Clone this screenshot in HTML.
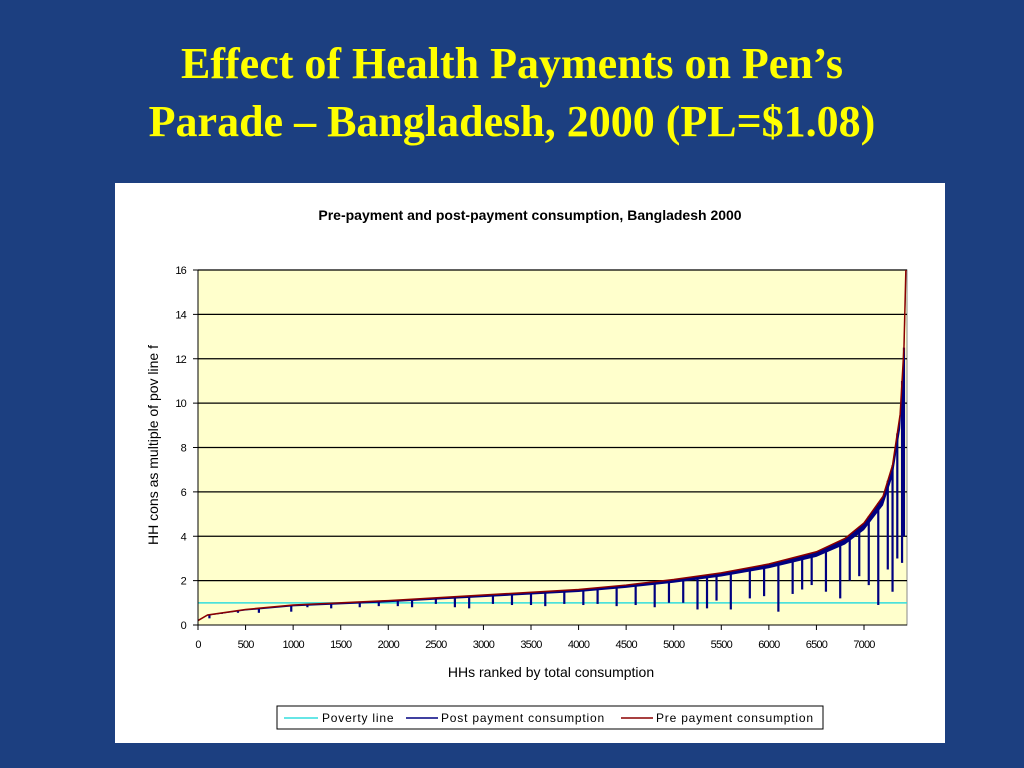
<!DOCTYPE html>
<html><head><meta charset="utf-8"><style>
body{margin:0;width:1024px;height:768px;background:#1c3f80;overflow:hidden;font-family:"Liberation Sans",sans-serif}
.t{position:absolute;left:0;width:1024px;text-align:center;color:#ffff00;font-family:"Liberation Serif",serif;font-weight:bold;font-size:44px;line-height:58px}
</style></head><body>
<div class="t" style="top:35px">Effect of Health Payments on Pen’s<br>Parade – Bangladesh, 2000 (PL=$1.08)</div>
<svg id="c" width="1024" height="768" style="position:absolute;left:0;top:0">
<rect x="115" y="183" width="830" height="560" fill="#fff"/>
<text x="530" y="220" text-anchor="middle" font-size="14" font-weight="bold">Pre-payment and post-payment consumption, Bangladesh 2000</text>
<rect x="198" y="270" width="709" height="355" fill="#ffffcc" stroke="#888"/>
<g id="grid"></g><g id="series"></g><g id="axes"></g>
<text x="551" y="677" text-anchor="middle" font-size="14">HHs ranked by total consumption</text>
<text transform="translate(158,445) rotate(-90)" text-anchor="middle" font-size="14">HH cons as multiple of pov line f</text>
<g>
<rect x="277" y="706" width="546" height="23" fill="#fff" stroke="#000"/>
<line x1="284" y1="718" x2="318" y2="718" stroke="#33dddd" stroke-width="1.5"/>
<text x="322" y="722" font-size="12" letter-spacing="0.8">Poverty line</text>
<line x1="406" y1="718" x2="438" y2="718" stroke="#000080" stroke-width="1.5"/>
<text x="441" y="722" font-size="12" letter-spacing="0.8">Post payment consumption</text>
<line x1="621" y1="718" x2="653" y2="718" stroke="#8b0000" stroke-width="1.5"/>
<text x="656" y="722" font-size="12" letter-spacing="0.8">Pre payment consumption</text>
</g>
</svg>
<script>
const preRank=[0,100,500,1000,2000,3000,4000,4500,5000,5500,6000,6500,6800,7000,7200,7300,7380,7420,7440];
const preVal=[0.2,0.45,0.7,0.9,1.1,1.35,1.6,1.8,2.05,2.35,2.75,3.3,3.9,4.6,5.8,7.2,9.5,12.5,16];
const dipRank=[120,250,420,640,980,1150,1400,1700,1900,2100,2250,2500,2700,2850,3100,3300,3500,3650,3850,4050,4200,4400,4600,4800,4950,5100,5250,5350,5450,5600,5800,5950,6100,6250,6350,6450,6600,6750,6850,6950,7050,7150,7250,7300,7350,7400,7420];
const dipVal=[0.3,0.5,0.55,0.55,0.6,0.8,0.75,0.8,0.85,0.85,0.8,0.95,0.8,0.75,0.95,0.9,0.9,0.85,0.95,0.9,0.95,0.85,0.9,0.8,1.0,1.0,0.7,0.75,1.1,0.7,1.2,1.3,0.6,1.4,1.6,1.8,1.5,1.2,2.0,2.2,1.8,0.9,2.5,1.5,3.0,2.8,4.0];
const yTicks=[0,2,4,6,8,10,12,14,16];
const xTicks=[0,500,1000,1500,2000,2500,3000,3500,4000,4500,5000,5500,6000,6500,7000];
const povertyLine=1;
const X=v=>198+v*(666/7000), Y=v=>625-v*(355/16);
const NS="http://www.w3.org/2000/svg";
function mk(g,t,a){const e=document.createElementNS(NS,t);for(const k in a)e.setAttribute(k,a[k]);document.getElementById(g).appendChild(e);return e;}
function pre(r){for(let i=1;i<preRank.length;i++)if(r<=preRank[i]){const f=(r-preRank[i-1])/(preRank[i]-preRank[i-1]);return preVal[i-1]+f*(preVal[i]-preVal[i-1]);}return preVal[preVal.length-1];}
yTicks.forEach(v=>{
 if(v>0){const l=mk('grid','line',{x1:198,x2:907,y1:Y(v),y2:Y(v),stroke:'#000','stroke-width':1.2});
 
 }
 mk('axes','line',{x1:193,x2:198,y1:Y(v),y2:Y(v),stroke:'#000'});
 const t=mk('axes','text',{x:186,y:Y(v)+4,'text-anchor':'end','font-size':11,'letter-spacing':'-0.8'});t.textContent=v;
 
 
});
xTicks.forEach(v=>{
 mk('axes','line',{x1:X(v),x2:X(v),y1:625,y2:630,stroke:'#000'});
 const t=mk('axes','text',{x:X(v),y:648,'text-anchor':'middle','font-size':11,'letter-spacing':'-0.8'});t.textContent=v;
 
 
});
mk('axes','line',{x1:198,x2:198,y1:270,y2:625,stroke:'#000'});
mk('axes','line',{x1:198,x2:907,y1:625,y2:625,stroke:'#000'});
const pl=mk('series','line',{x1:198,x2:907,y1:Y(povertyLine),y2:Y(povertyLine),stroke:'#33dddd','stroke-width':1.5});


// post payment: band below pre curve with dips
let pts=[];
preRank.forEach((r,i)=>pts.push(X(r)+','+Y(preVal[i]*0.93)));
const band=mk('series','polygon',{points:preRank.map((r,i)=>X(r)+','+Y(preVal[i])).join(' ')+' '+pts.reverse().join(' '),fill:'#000080'});


dipRank.forEach((r,i)=>{
 const l=mk('series','line',{x1:X(r),x2:X(r),y1:Y(pre(r)),y2:Y(dipVal[i]),stroke:'#000080','stroke-width':2.2});
 
 
});
const p=mk('series','polyline',{points:preRank.map((r,i)=>X(r)+','+Y(preVal[i])).join(' '),fill:'none',stroke:'#8b0000','stroke-width':1.5});


</script>
</body></html>
